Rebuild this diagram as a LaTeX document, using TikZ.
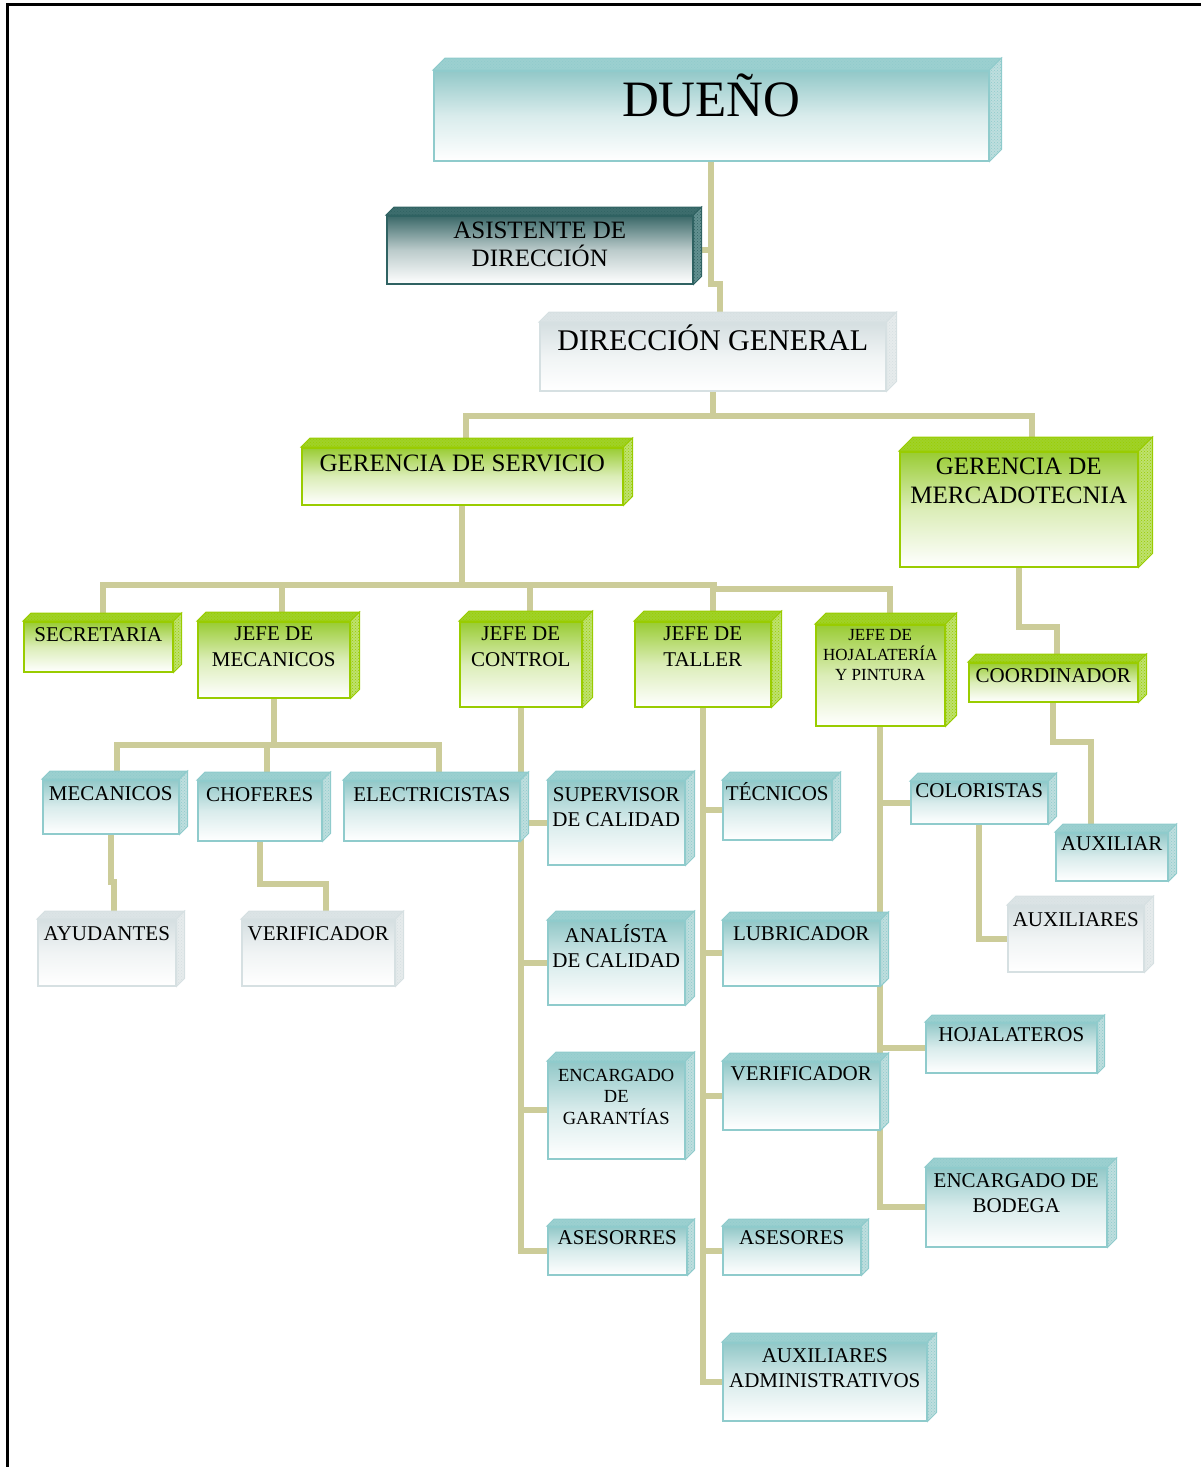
\documentclass[tikz,border=0pt]{standalone}
\usepackage{fontspec}
\setmainfont{Liberation Serif}
\usetikzlibrary{backgrounds,patterns}
\definecolor{linkC}{RGB}{204,204,153}
\definecolor{tlF}{RGB}{146,200,200}
\definecolor{tlE}{RGB}{143,203,204}
\definecolor{tlB}{RGB}{156,208,208}
\definecolor{tlS}{RGB}{190,222,222}
\definecolor{grF}{RGB}{153,204,51}
\definecolor{grE}{RGB}{153,204,0}
\definecolor{grB}{RGB}{160,210,40}
\definecolor{grS}{RGB}{190,225,110}
\definecolor{dkF}{RGB}{58,104,104}
\definecolor{dkE}{RGB}{47,98,98}
\definecolor{dkB}{RGB}{62,110,110}
\definecolor{dkS}{RGB}{100,145,145}
\definecolor{gyF}{RGB}{213,223,225}
\definecolor{gyE}{RGB}{214,224,226}
\definecolor{gyB}{RGB}{220,228,230}
\definecolor{gyS}{RGB}{230,235,236}

\begin{document}
\begin{tikzpicture}[x=1pt,y=-1pt,
  face/.style={anchor=north west,inner sep=0pt,draw=#1E,line width=1.5pt,top color=#1F,bottom color=white,middle color=#1F!35!white},
  lab/.style={anchor=north,yshift=-#1,inner sep=0pt,align=center,font=\fontsize{21}{25.5}\selectfont},
  lab/.default=6,
  link/.style={draw=linkC,line width=6pt}]
\useasboundingbox (0,0) rectangle (1201,1467);
\draw[line width=3pt] (7,1467) |- (1201,4);
% boxes: name/colour/x/y/width/height/depth
\foreach \n/\fc/\xa/\ya/\w/\h/\d in {due/tl/433/70/555/90/12, asi/dk/386/215/306/68/8,
  dg/gy/539/322/346/68/10, gs/gr/301/447/321/57/9, gm/gr/899/451/238/115/14,
  sec/gr/23/621/149/50/8, jm/gr/197/621/152/76/9, jc/gr/459/621/122/85/10,
  jt/gr/634/621/136/85/10, jh/gr/815/624/129/101/11, coord/gr/968/662/169/39/8,
  mec/tl/42/779/136/54/8, cho/tl/197/780/124/60/8, ele/tl/343/780/176/60/8,
  sup/tl/547/780/137/84/9, tec/tl/722/780/109/59/8, col/tl/910/781/137/42/8,
  axr/tl/1055/832/112/48/8, ayu/gy/37/919/138/66/8, vel/gy/241/919/153/66/8,
  axs/gy/1007/905/136/66/9, ana/tl/547/920/137/84/9, lub/tl/722/920/157/65/8,
  hoj/tl/925/1022/171/50/7, gar/tl/547/1061/137/97/9, vem/tl/722/1061/157/68/8,
  bod/tl/925/1167/181/79/9, as1/tl/547/1226/139/48/7, as2/tl/722/1226/138/48/7,
  adm/tl/722/1342/204/78/9}
{\node[face=\fc,minimum width=\w,minimum height=\h] (\n) at (\xa,\ya) {};
 \filldraw[draw=\fc E,fill=\fc B,line width=1pt,postaction={pattern=crosshatch dots,pattern color=\fc E}]
   (\n.north west) -- ++(\d,-\d) -- ([shift={(\d,-\d)}]\n.north east) -- (\n.north east) -- cycle;
 \filldraw[draw=\fc E,fill=\fc S,line width=1pt,postaction={pattern=crosshatch dots,pattern color=\fc E}]
   (\n.north east) -- ++(\d,-\d) -- ([shift={(\d,-\d)}]\n.south east) -- (\n.south east) -- cycle;}
% texts
\node[lab=4,font=\fontsize{51}{60}\selectfont] (tdue) at (due.north) {DUEÑO};
\node[lab=7,font=\fontsize{25}{28}\selectfont] (tasi) at (asi.north) {ASISTENTE DE\\DIRECCIÓN};
\node[lab=3,font=\fontsize{30}{34}\selectfont] (tdg) at (dg.north) {DIRECCIÓN GENERAL};
\node[lab=8,font=\fontsize{25}{29}\selectfont] (tgs) at (gs.north) {GERENCIA DE SERVICIO};
\node[lab=7,font=\fontsize{25}{29}\selectfont] (tgm) at (gm.north) {GERENCIA DE\\MERCADOTECNIA};
\node[lab] (tsec) at (sec.north) {SECRETARIA};
\node[lab] (tjm) at (jm.north) {JEFE DE\\MECANICOS};
\node[lab] (tjc) at (jc.north) {JEFE DE\\CONTROL};
\node[lab] (tjt) at (jt.north) {JEFE DE\\TALLER};
\node[lab=5,font=\fontsize{17}{20}\selectfont] (tjh) at (jh.north) {JEFE DE\\HOJALATERÍA\\Y PINTURA};
\node[lab] (tcoord) at (coord.north) {COORDINADOR};
\node[lab=7] (tmec) at (mec.north) {MECANICOS};
\node[lab=7] (tcho) at (cho.north) {CHOFERES};
\node[lab=7] (tele) at (ele.north) {ELECTRICISTAS};
\node[lab=7] (tsup) at (sup.north) {SUPERVISOR\\DE CALIDAD};
\node[lab=2] (ttec) at (tec.north) {TÉCNICOS};
\node[lab=2] (tcol) at (col.north) {COLORISTAS};
\node[lab=4] (taxr) at (axr.north) {AUXILIAR};
\node[lab=7] (tayu) at (ayu.north) {AYUDANTES};
\node[lab=7] (tvel) at (vel.north) {VERIFICADOR};
\node[lab=7] (taxs) at (axs.north) {AUXILIARES};
\node[lab=4] (tana) at (ana.north) {ANALÍSTA\\DE CALIDAD};
\node[lab] (tlub) at (lub.north) {LUBRICADOR};
\node[lab=5] (thoj) at (hoj.north) {HOJALATEROS};
\node[lab=8,font=\fontsize{18.5}{21.5}\selectfont] (tgar) at (gar.north) {ENCARGADO\\DE\\GARANTÍAS};
\node[lab=5] (tvem) at (vem.north) {VERIFICADOR};
\node[lab] (tbod) at (bod.north) {ENCARGADO DE\\BODEGA};
\node[lab=4] (tas1) at (as1.north) {ASESORRES};
\node[lab=4] (tas2) at (as2.north) {ASESORES};
\node[lab] (tadm) at (adm.north) {AUXILIARES\\ADMINISTRATIVOS};
% connectors
\begin{scope}[on background layer]
\draw[link] (due.south) -- ++(0,122) -| ([xshift=7]dg.north);
\draw[link] (asi.east) -- (asi.east -| due.south);
\draw[link] (dg.south) -- ++(0,24) coordinate (busDG);
\draw[link] ([xshift=4]gs.north) |- (busDG) -| ([xshift=13]gm.north);
% gerencia de servicio
\draw[link] (gs.south) -- ++(0,79) coordinate (busGS);
\draw[link] ([xshift=5]sec.north) |- (busGS) -- ([xshift=11]jt.north |- busGS) -- ++(0,4) -| ([xshift=10]jh.north);
\foreach \n/\s in {jm/8,jc/9,jt/10} \draw[link] ([xshift=\s]\n.north) -- ([xshift=\s]\n.north |- busGS);
% jefe de mecanicos
\draw[link] (jm.south) -- ++(0,46) coordinate (busJM);
\draw[link] ([xshift=6]mec.north) |- (busJM) -| ([xshift=7]ele.north);
\draw[link] ([xshift=7]cho.north) -- ([xshift=7]cho.north |- busJM);
\draw[link] (mec.south) -- ++(0,47) -| ([xshift=7]ayu.north);
\draw[link] (cho.south) -- ++(0,42) -| ([xshift=8]vel.north);
% control, taller, hojalateria
\draw[link] (jc.south) |- (as1.west);
\foreach \n in {sup,ana,gar} \draw[link] (jc.south |- \n.west) -- (\n.west);
\draw[link] (jt.south) |- (adm.west);
\foreach \n in {tec,lub,vem,as2} \draw[link] (jt.south |- \n.west) -- (\n.west);
\draw[link] (jh.south) |- (bod.west);
\foreach \n in {col,hoj} \draw[link] (jh.south |- \n.west) -- (\n.west);
\draw[link] (col.south) |- (axs.west);
% mercadotecnia
\draw[link] (gm.south) -- ++(0,59) -| ([xshift=4]coord.north);
\draw[link] (coord.south) -- ++(0,39) -| ([xshift=-21]axr.north);
\end{scope}
\end{tikzpicture}
\end{document}
